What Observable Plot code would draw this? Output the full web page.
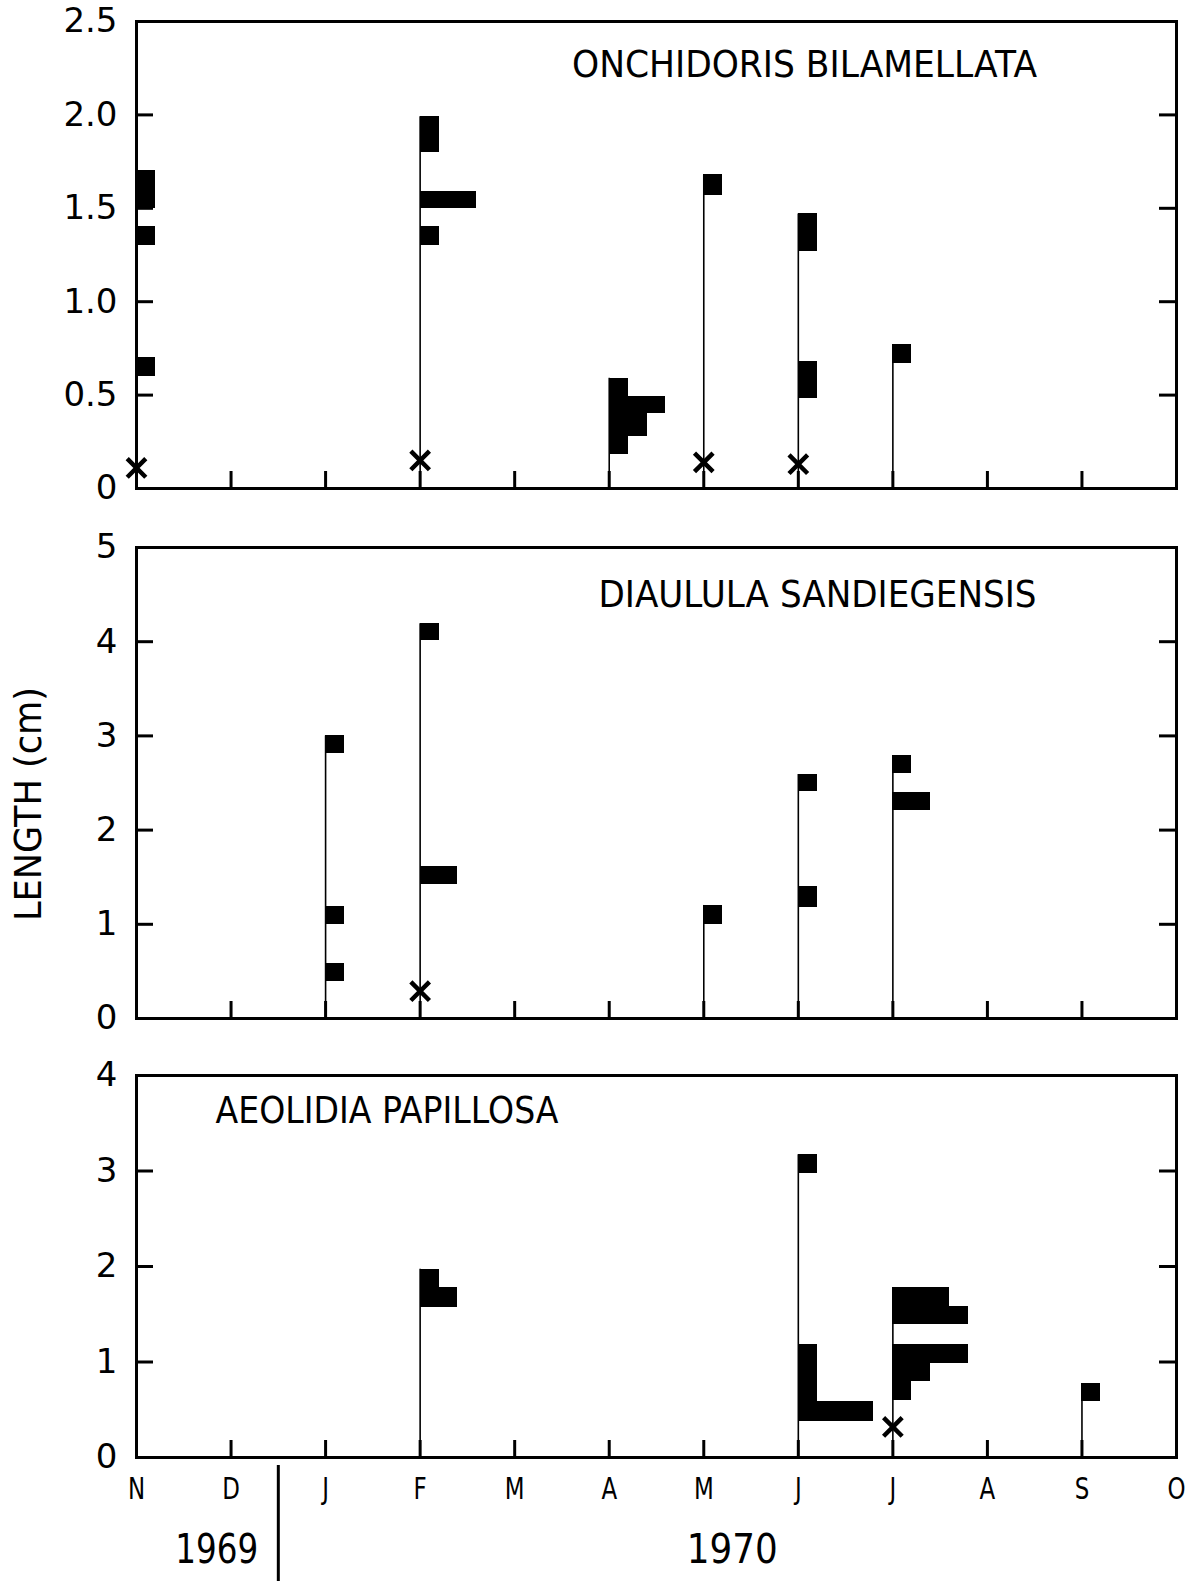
<!DOCTYPE html>
<html><head><meta charset="utf-8">
<script src="https://cdn.jsdelivr.net/npm/d3@7"></script>
<script src="https://cdn.jsdelivr.net/npm/@observablehq/plot@0.6"></script>
<style>
body{margin:0;background:#fff;}
#chart svg{display:block;}
</style></head><body><div id="chart"></div>
<script>
// ---- data ----
const months = ["N","D","J","F","M","A","M","J","J","A","S","O"]; // Nov 1969 .. Oct 1970
const years = ["1969","1970"];
const species = ["ONCHIDORIS BILAMELLATA","DIAULULA SANDIEGENSIS","AEOLIDIA PAPILLOSA"];
const yLabel = "LENGTH (cm)";

// size-frequency bars: [month index, lower edge (cm), upper edge (cm), number of animals]
const onchidorisBars = [
  [0, 1.50, 1.70, 1], [0, 1.30, 1.40, 1], [0, 0.60, 0.70, 1],
  [3, 1.80, 1.99, 1], [3, 1.50, 1.59, 3], [3, 1.30, 1.40, 1],
  [5, 0.49, 0.59, 1], [5, 0.40, 0.49, 3], [5, 0.28, 0.40, 2], [5, 0.18, 0.28, 1],
  [6, 1.57, 1.68, 1],
  [7, 1.27, 1.47, 1], [7, 0.48, 0.68, 1],
  [8, 0.67, 0.77, 1]
];
const onchidorisX = [[0, 0.11], [3, 0.15], [6, 0.14], [7, 0.13]];

const diaululaBars = [
  [2, 2.81, 3.00, 1], [2, 1.00, 1.19, 1], [2, 0.39, 0.58, 1],
  [3, 4.01, 4.19, 1], [3, 1.42, 1.61, 2],
  [6, 1.00, 1.20, 1],
  [7, 2.41, 2.59, 1], [7, 1.18, 1.40, 1],
  [8, 2.60, 2.79, 1], [8, 2.21, 2.40, 2]
];
const diaululaX = [[3, 0.29]];

const aeolidiaBars = [
  [3, 1.78, 1.97, 1], [3, 1.57, 1.78, 2],
  [7, 2.97, 3.17, 1], [7, 1.00, 1.18, 1], [7, 0.80, 1.00, 1], [7, 0.59, 0.80, 1], [7, 0.38, 0.59, 4],
  [8, 1.58, 1.78, 3], [8, 1.39, 1.58, 4], [8, 0.98, 1.18, 4], [8, 0.80, 0.98, 2], [8, 0.60, 0.80, 1],
  [10, 0.59, 0.77, 1]
];
const aeolidiaX = [[8, 0.32]];

const yTicks1 = [0, 0.5, 1.0, 1.5, 2.0, 2.5];
const yTicks2 = [0, 1, 2, 3, 4, 5];
const yTicks3 = [0, 1, 2, 3, 4];

// ---- layout ----
const W = 1198, ML = 136, MR = 22;
const plotW = W - ML - MR;
const unit = 0.2; // month-widths per animal
const TICK = 17;
const FONT = "'DejaVu Sans',sans-serif";
// rendered widths of the condensed lettering (px)
const textWidths = new Map([
  [species[0], 465], [species[1], 438], [species[2], 343],
  [yLabel, 234], [years[0], 83], [years[1], 91]
]);

function condense(svg) {
  svg.querySelectorAll("text").forEach(t => {
    const w = textWidths.get(t.textContent);
    if (w) { t.setAttribute("textLength", w); t.setAttribute("lengthAdjust", "spacingAndGlyphs"); }
  });
  return svg;
}

function panel({bars, xs, name, ticks, fmt, height, mt, mb, nameOpts, bottom}) {
  const rows = bars.map(([m, lo, hi, n]) => ({m, lo, hi, n}));
  const stems = d3.rollups(rows, v => d3.max(v, d => d.hi), d => d.m).map(([m, top]) => ({m, top}));
  const plotH = height - mt - mb;
  const domain = [ticks[0], ticks[ticks.length - 1]];
  const inner = ticks.slice(1, -1);
  const innerMonths = d3.range(1, months.length - 1);
  const marks = [
    Plot.ruleX(stems, {x: "m", y1: 0, y2: "top", strokeWidth: 1.6}),
    Plot.rect(rows, {x1: d => d.m, x2: d => d.m + d.n * unit, y1: "lo", y2: "hi", fill: "black", shapeRendering: "crispEdges"}),
    Plot.dot(xs, {x: d => d[0], y: d => d[1], symbol: "times", r: 8.5, stroke: "black", strokeWidth: 4.5}),
    Plot.ruleY(inner, {insetRight: plotW - TICK, strokeWidth: 3}),
    Plot.ruleY(inner, {insetLeft: plotW - TICK, strokeWidth: 3}),
    Plot.ruleX(innerMonths, {insetTop: plotH - TICK, strokeWidth: 3}),
    Plot.frame({strokeWidth: 3}),
    Plot.axisY(ticks, {tickSize: 0, tickPadding: 19, fontSize: 34, tickFormat: fmt, label: null}),
    Plot.text([name], {text: d => d, frameAnchor: nameOpts.anchor, textAnchor: nameOpts.textAnchor, dx: nameOpts.dx, dy: nameOpts.dy, lineAnchor: "middle", fontSize: 38})
  ];
  if (bottom) marks.push(...bottom);
  return condense(Plot.plot({
    width: W, height, marginLeft: ML, marginRight: MR, marginTop: mt, marginBottom: mb,
    style: {fontFamily: FONT, background: "white", color: "black", overflow: "visible"},
    x: {domain: [0, months.length - 1], axis: null, label: null},
    y: {domain, axis: null, label: null},
    marks
  }));
}

const chart = document.getElementById("chart");

chart.append(panel({
  bars: onchidorisBars, xs: onchidorisX, name: species[0], ticks: yTicks1,
  fmt: d => d === 0 ? "0" : d.toFixed(1),
  height: 520, mt: 21, mb: 32,
  nameOpts: {anchor: "top", textAnchor: "middle", dx: 148, dy: 43}
}));

chart.append(panel({
  bars: diaululaBars, xs: diaululaX, name: species[1], ticks: yTicks2,
  fmt: d => String(d),
  height: 526, mt: 27, mb: 28,
  nameOpts: {anchor: "top", textAnchor: "middle", dx: 161, dy: 47},
  bottom: [
    Plot.text([yLabel], {text: d => d, frameAnchor: "left", textAnchor: "middle", dx: -108, dy: 21, rotate: -90, fontSize: 38, lineAnchor: "middle"})
  ]
}));

const p3 = panel({
  bars: aeolidiaBars, xs: aeolidiaX, name: species[2], ticks: yTicks3,
  fmt: d => String(d),
  height: 535, mt: 29, mb: 124,
  nameOpts: {anchor: "top-left", textAnchor: "start", dx: 79, dy: 35},
  bottom: [
    Plot.axisX(d3.range(months.length), {tickSize: 0, tickPadding: 19, fontSize: 31, tickFormat: i => months[i], label: null}),
    Plot.ruleX([1.5], {insetTop: 382 + 8, insetBottom: -130, strokeWidth: 3}),
    Plot.text([years[0]], {text: d => d, x: 1.5, frameAnchor: "bottom", dx: -20, dy: 93, textAnchor: "end", lineAnchor: "middle", fontSize: 40}),
    Plot.text([years[1]], {text: d => d, x: 6.3, frameAnchor: "bottom", dy: 93, textAnchor: "middle", lineAnchor: "middle", fontSize: 40})
  ]
});
chart.append(p3);
// condensed month lettering, as in the original typeface
p3.querySelectorAll('g[aria-label="x-axis tick label"] text').forEach(t => {
  const w = t.getComputedTextLength();
  if (w > 0) { t.setAttribute("textLength", w * 0.74); t.setAttribute("lengthAdjust", "spacingAndGlyphs"); }
});
</script>
</body></html>
